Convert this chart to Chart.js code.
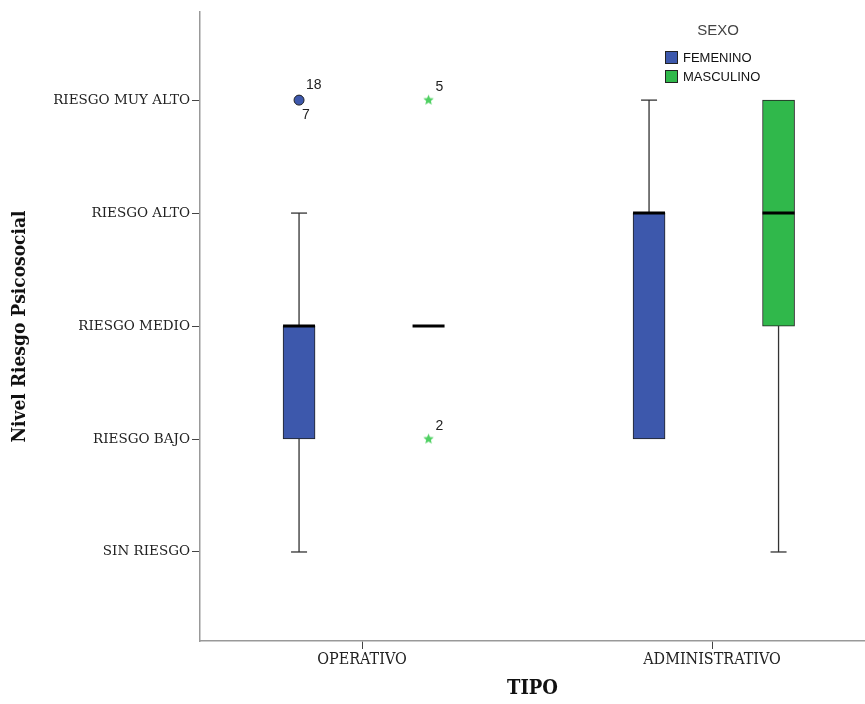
<!DOCTYPE html>
<html><head><meta charset="utf-8">
<script src="https://cdn.jsdelivr.net/npm/chart.js@4"></script>
<style>html,body{margin:0;padding:0;background:#fff}</style>
</head><body>
<canvas id="c" width="865" height="704"></canvas>
<script>
// ---- data ----
const tipos = ['OPERATIVO', 'ADMINISTRATIVO'];
const tipoPos = [1, 2];
const niveles = ['SIN RIESGO', 'RIESGO BAJO', 'RIESGO MEDIO', 'RIESGO ALTO', 'RIESGO MUY ALTO'];
const nivelPos = [1, 2, 3, 4, 5];
const sexos = ['FEMENINO', 'MASCULINO'];
const femMin = [1, 2], femQ1 = [2, 2], femMed = [3, 4], femQ3 = [3, 4], femMax = [4, 5];
const mascMin = [3, 1], mascQ1 = [3, 3], mascMed = [3, 4], mascQ3 = [3, 5], mascMax = [3, 5];
const femOutTipo = [1], femOutNivel = [5], femOutLabelUp = ['18'], femOutLabelDown = ['7'];
const mascExtTipo = [1, 1], mascExtNivel = [5, 2], mascExtLabel = ['5', '2'];

// ---- styling ----
const offF = -0.18, offM = 0.19;
const blue = '#3d58ac', green = '#30b84b', starGreen = '#4fd062';
const serif = '"DejaVu Serif", serif';

function makeStar(color, r) {
  const c = document.createElement('canvas');
  const s = Math.ceil(r * 2) + 2;
  c.width = c.height = s;
  const g = c.getContext('2d');
  g.fillStyle = color;
  g.beginPath();
  for (let k = 0; k < 10; k++) {
    const rr = k % 2 ? r * 0.45 : r;
    const a = -Math.PI / 2 + k * Math.PI / 5;
    const px = s / 2 + rr * Math.cos(a), py = s / 2 + rr * Math.sin(a);
    if (k) g.lineTo(px, py); else g.moveTo(px, py);
  }
  g.closePath();
  g.fill();
  return c;
}

function boxData(off, q1, q3) {
  return tipoPos.map((p, i) => q3[i] > q1[i] ? { x: p + off, y: [q1[i], q3[i]] } : null).filter(Boolean);
}
function whiskerData(off, mn, q1, q3, mx) {
  const d = [];
  tipoPos.forEach((p, i) => {
    const x = p + off;
    if (mn[i] < q1[i]) d.push({ x, y: mn[i] }, { x, y: q1[i] }, { x, y: null });
    if (mx[i] > q3[i]) d.push({ x, y: q3[i] }, { x, y: mx[i] }, { x, y: null });
  });
  return d;
}
function capData(off, mn, q1, q3, mx) {
  const d = [];
  tipoPos.forEach((p, i) => {
    const x = p + off;
    if (mn[i] < q1[i]) d.push({ x, y: mn[i] });
    if (mx[i] > q3[i]) d.push({ x, y: mx[i] });
  });
  return d;
}
function medData(off, med) { return tipoPos.map((p, i) => ({ x: p + off, y: med[i] })); }

const datasets = [
  { type: 'line', data: whiskerData(offF, femMin, femQ1, femQ3, femMax), borderColor: '#333', borderWidth: 1.3, pointRadius: 0, spanGaps: false, order: 5 },
  { type: 'line', data: whiskerData(offM, mascMin, mascQ1, mascQ3, mascMax), borderColor: '#333', borderWidth: 1.3, pointRadius: 0, spanGaps: false, order: 5 },
  { type: 'bar', label: sexos[0], data: boxData(offF, femQ1, femQ3), backgroundColor: blue, borderColor: '#222', borderWidth: 1, borderSkipped: false, barThickness: 32, grouped: false, order: 4 },
  { type: 'bar', label: sexos[1], data: boxData(offM, mascQ1, mascQ3), backgroundColor: green, borderColor: '#222', borderWidth: 1, borderSkipped: false, barThickness: 32, grouped: false, order: 4 },
  { type: 'scatter', data: capData(offF, femMin, femQ1, femQ3, femMax), pointStyle: 'line', pointRadius: 8, borderColor: '#333', borderWidth: 1.3, order: 3 },
  { type: 'scatter', data: capData(offM, mascMin, mascQ1, mascQ3, mascMax), pointStyle: 'line', pointRadius: 8, borderColor: '#333', borderWidth: 1.3, order: 3 },
  { type: 'scatter', data: medData(offF, femMed), pointStyle: 'line', pointRadius: 16, borderColor: '#000', borderWidth: 3, order: 2 },
  { type: 'scatter', data: medData(offM, mascMed), pointStyle: 'line', pointRadius: 16, borderColor: '#000', borderWidth: 3, order: 2 },
  { type: 'scatter', data: femOutTipo.map((t, i) => ({ x: t + offF, y: femOutNivel[i] })), pointStyle: 'circle', pointRadius: 5, backgroundColor: blue, borderColor: '#222', borderWidth: 1, order: 1 },
  { type: 'scatter', data: mascExtTipo.map((t, i) => ({ x: t + offM, y: mascExtNivel[i] })), pointStyle: makeStar(starGreen, 5.5), pointRadius: 5, order: 1 }
];

const labelPlugin = {
  id: 'outLabels',
  afterDatasetsDraw(chart) {
    const ctx = chart.ctx;
    ctx.save();
    ctx.font = '14px "Liberation Sans", Arial, sans-serif';
    ctx.fillStyle = '#222';
    ctx.textAlign = 'left';
    ctx.textBaseline = 'middle';
    chart.getDatasetMeta(8).data.forEach((pt, i) => {
      ctx.fillText(femOutLabelUp[i], pt.x + 7, pt.y - 15);
      ctx.fillText(femOutLabelDown[i], pt.x + 3, pt.y + 15);
    });
    chart.getDatasetMeta(9).data.forEach((pt, i) => {
      ctx.fillText(mascExtLabel[i], pt.x + 7, pt.y - 13);
    });
    ctx.restore();
  }
};

const legendPlugin = {
  id: 'boxLegend',
  afterDraw(chart) {
    const ctx = chart.ctx;
    ctx.save();
    ctx.font = '15px "Liberation Sans", Arial, sans-serif';
    ctx.fillStyle = '#444';
    ctx.textAlign = 'center';
    ctx.textBaseline = 'middle';
    ctx.fillText('SEXO', 718, 31);
    const cols = [blue, green];
    sexos.forEach((s, i) => {
      const y = 51 + i * 19;
      ctx.fillStyle = cols[i];
      ctx.fillRect(665, y, 13, 13);
      ctx.strokeStyle = '#222';
      ctx.lineWidth = 1;
      ctx.strokeRect(665.5, y + 0.5, 12, 12);
      ctx.fillStyle = '#111';
      ctx.font = '13px "Liberation Sans", Arial, sans-serif';
      ctx.textAlign = 'left';
      ctx.fillText(s, 683, y + 7);
    });
    ctx.restore();
  }
};

new Chart(document.getElementById('c'), {
  type: 'bar',
  data: { datasets },
  options: {
    responsive: false,
    animation: false,
    events: [],
    layout: { autoPadding: false, padding: { top: 12, right: 0, left: 0, bottom: 0 } },
    plugins: { legend: { display: false }, tooltip: { enabled: false } },
    scales: {
      x: {
        type: 'linear', min: 0.537, max: 2.437, offset: false,
        afterBuildTicks: s => { s.ticks = tipoPos.map(v => ({ value: v })); },
        afterFit: s => { s.height = 63; s.paddingLeft = 0; s.paddingRight = 0; },
        ticks: { callback: v => tipos[tipoPos.indexOf(v)] || '', font: { family: '"DejaVu Serif Condensed", serif', size: 16 }, color: '#222', padding: 1, maxRotation: 0, autoSkip: false },
        grid: { drawOnChartArea: false, drawTicks: true, tickLength: 8, color: '#444', offset: false },
        border: { color: '#999', width: 1.5 },
        title: { display: true, text: 'TIPO', font: { family: '"DejaVu Serif Condensed", serif', size: 20, weight: 'bold' }, color: '#111', padding: { top: 4, bottom: 3 } }
      },
      y: {
        type: 'linear', min: 0.212, max: 5.78,
        afterBuildTicks: s => { s.ticks = nivelPos.map(v => ({ value: v })); },
        afterFit: s => { s.width = 200; s.paddingTop = 0; s.paddingBottom = 0; },
        ticks: { callback: v => niveles[nivelPos.indexOf(v)] || '', font: { family: serif, size: 13.5 }, color: '#222', padding: 2 },
        grid: { drawOnChartArea: false, drawTicks: true, tickLength: 8, color: '#444' },
        border: { color: '#999', width: 1.5 },
        title: { display: true, text: 'Nivel Riesgo Psicosocial', font: { family: '"DejaVu Serif Condensed", serif', size: 19, weight: 'bold' }, color: '#111', padding: { top: 9, bottom: 4 } }
      }
    }
  },
  plugins: [labelPlugin, legendPlugin]
});
</script>
</body></html>
